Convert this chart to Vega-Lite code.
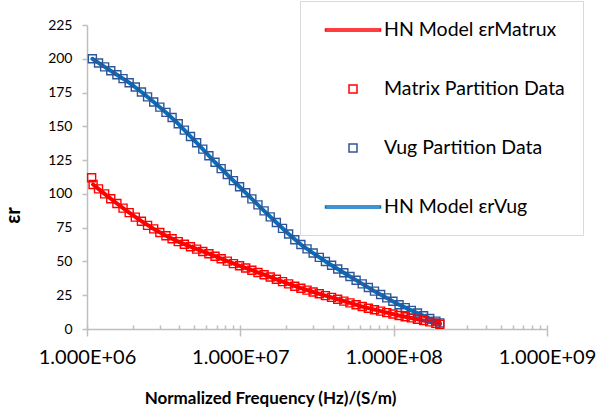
{
  "$schema": "https://vega.github.io/schema/vega-lite/v6.json",
  "width": 460,
  "height": 304,
  "autosize": "none",
  "padding": {"left": 87, "top": 25, "right": 65, "bottom": 83},
  "background": "white",
  "config": {
    "view": {"stroke": null},
    "font": "Lato",
    "axis": {"grid": false, "domainColor": "#BFBFBF", "tickColor": "#BFBFBF", "labelColor": "#000000", "titleColor": "#000000", "labelFont": "Lato", "titleFont": "Lato", "domainWidth": 1.5, "tickWidth": 1.5}
  },
  "resolve": {"axis": {"x": "independent"}},
  "datasets": {
    "hnmodel": [
      {"f": 1084000, "v": 200, "series": "HN Model εrVug"},
      {"f": 1303000, "v": 194.0, "series": "HN Model εrVug"},
      {"f": 1567000, "v": 188.2, "series": "HN Model εrVug"},
      {"f": 1884000, "v": 182.3, "series": "HN Model εrVug"},
      {"f": 2265000, "v": 175.4, "series": "HN Model εrVug"},
      {"f": 2723000, "v": 168.0, "series": "HN Model εrVug"},
      {"f": 3273000, "v": 160.3, "series": "HN Model εrVug"},
      {"f": 3936000, "v": 151.9, "series": "HN Model εrVug"},
      {"f": 4732000, "v": 142.5, "series": "HN Model εrVug"},
      {"f": 5689000, "v": 133.1, "series": "HN Model εrVug"},
      {"f": 6839000, "v": 123.4, "series": "HN Model εrVug"},
      {"f": 8222000, "v": 114.3, "series": "HN Model εrVug"},
      {"f": 9886000, "v": 105.3, "series": "HN Model εrVug"},
      {"f": 11890000, "v": 96.3, "series": "HN Model εrVug"},
      {"f": 14290000, "v": 87.4, "series": "HN Model εrVug"},
      {"f": 17180000, "v": 78.8, "series": "HN Model εrVug"},
      {"f": 20650000, "v": 70.3, "series": "HN Model εrVug"},
      {"f": 24830000, "v": 62.5, "series": "HN Model εrVug"},
      {"f": 29850000, "v": 56.2, "series": "HN Model εrVug"},
      {"f": 35890000, "v": 50.0, "series": "HN Model εrVug"},
      {"f": 43150000, "v": 44.4, "series": "HN Model εrVug"},
      {"f": 51880000, "v": 38.9, "series": "HN Model εrVug"},
      {"f": 62370000, "v": 33.4, "series": "HN Model εrVug"},
      {"f": 74990000, "v": 28.0, "series": "HN Model εrVug"},
      {"f": 90160000, "v": 23.0, "series": "HN Model εrVug"},
      {"f": 108400000, "v": 18.0, "series": "HN Model εrVug"},
      {"f": 130300000, "v": 13.8, "series": "HN Model εrVug"},
      {"f": 156700000, "v": 9.8, "series": "HN Model εrVug"},
      {"f": 188400000, "v": 5.8, "series": "HN Model εrVug"},
      {"f": 200000000, "v": 4.5, "series": "HN Model εrVug"},
      {"f": 1096000, "v": 107, "series": "HN  Model εrMatrux"},
      {"f": 1303000, "v": 100.0, "series": "HN  Model εrMatrux"},
      {"f": 1567000, "v": 92.9, "series": "HN  Model εrMatrux"},
      {"f": 1884000, "v": 86.1, "series": "HN  Model εrMatrux"},
      {"f": 2265000, "v": 79.8, "series": "HN  Model εrMatrux"},
      {"f": 2723000, "v": 74.1, "series": "HN  Model εrMatrux"},
      {"f": 3273000, "v": 69.0, "series": "HN  Model εrMatrux"},
      {"f": 3936000, "v": 64.7, "series": "HN  Model εrMatrux"},
      {"f": 4732000, "v": 60.9, "series": "HN  Model εrMatrux"},
      {"f": 5689000, "v": 57.4, "series": "HN  Model εrMatrux"},
      {"f": 6839000, "v": 53.9, "series": "HN  Model εrMatrux"},
      {"f": 8222000, "v": 50.2, "series": "HN  Model εrMatrux"},
      {"f": 9886000, "v": 46.8, "series": "HN  Model εrMatrux"},
      {"f": 11890000, "v": 43.5, "series": "HN  Model εrMatrux"},
      {"f": 14290000, "v": 40.2, "series": "HN  Model εrMatrux"},
      {"f": 17180000, "v": 36.8, "series": "HN  Model εrMatrux"},
      {"f": 20650000, "v": 33.4, "series": "HN  Model εrMatrux"},
      {"f": 24830000, "v": 30.2, "series": "HN  Model εrMatrux"},
      {"f": 29850000, "v": 27.4, "series": "HN  Model εrMatrux"},
      {"f": 35890000, "v": 24.7, "series": "HN  Model εrMatrux"},
      {"f": 43150000, "v": 22.0, "series": "HN  Model εrMatrux"},
      {"f": 51880000, "v": 19.3, "series": "HN  Model εrMatrux"},
      {"f": 62370000, "v": 16.6, "series": "HN  Model εrMatrux"},
      {"f": 74990000, "v": 14.3, "series": "HN  Model εrMatrux"},
      {"f": 90160000, "v": 12.1, "series": "HN  Model εrMatrux"},
      {"f": 108400000, "v": 10.0, "series": "HN  Model εrMatrux"},
      {"f": 130300000, "v": 8.2, "series": "HN  Model εrMatrux"},
      {"f": 156700000, "v": 6.3, "series": "HN  Model εrMatrux"},
      {"f": 188400000, "v": 4.2, "series": "HN  Model εrMatrux"},
      {"f": 200000000, "v": 3.5, "series": "HN  Model εrMatrux"}
    ],
    "pts": [
      {"f": 1084000, "v": 200, "series": "Vug Partition Data"},
      {"f": 1189000, "v": 196.9, "series": "Vug Partition Data"},
      {"f": 1303000, "v": 194.0, "series": "Vug Partition Data"},
      {"f": 1429000, "v": 191.1, "series": "Vug Partition Data"},
      {"f": 1567000, "v": 188.2, "series": "Vug Partition Data"},
      {"f": 1718000, "v": 185.3, "series": "Vug Partition Data"},
      {"f": 1884000, "v": 182.3, "series": "Vug Partition Data"},
      {"f": 2065000, "v": 179.1, "series": "Vug Partition Data"},
      {"f": 2265000, "v": 175.4, "series": "Vug Partition Data"},
      {"f": 2483000, "v": 171.8, "series": "Vug Partition Data"},
      {"f": 2723000, "v": 168.0, "series": "Vug Partition Data"},
      {"f": 2985000, "v": 164.2, "series": "Vug Partition Data"},
      {"f": 3273000, "v": 160.3, "series": "Vug Partition Data"},
      {"f": 3589000, "v": 156.5, "series": "Vug Partition Data"},
      {"f": 3936000, "v": 151.9, "series": "Vug Partition Data"},
      {"f": 4315000, "v": 147.2, "series": "Vug Partition Data"},
      {"f": 4732000, "v": 142.5, "series": "Vug Partition Data"},
      {"f": 5188000, "v": 137.8, "series": "Vug Partition Data"},
      {"f": 5689000, "v": 133.1, "series": "Vug Partition Data"},
      {"f": 6237000, "v": 128.2, "series": "Vug Partition Data"},
      {"f": 6839000, "v": 123.4, "series": "Vug Partition Data"},
      {"f": 7499000, "v": 118.7, "series": "Vug Partition Data"},
      {"f": 8222000, "v": 114.3, "series": "Vug Partition Data"},
      {"f": 9016000, "v": 109.8, "series": "Vug Partition Data"},
      {"f": 9886000, "v": 105.3, "series": "Vug Partition Data"},
      {"f": 10840000, "v": 100.8, "series": "Vug Partition Data"},
      {"f": 11890000, "v": 96.3, "series": "Vug Partition Data"},
      {"f": 13030000, "v": 91.9, "series": "Vug Partition Data"},
      {"f": 14290000, "v": 87.4, "series": "Vug Partition Data"},
      {"f": 15670000, "v": 83.0, "series": "Vug Partition Data"},
      {"f": 17180000, "v": 78.8, "series": "Vug Partition Data"},
      {"f": 18840000, "v": 74.5, "series": "Vug Partition Data"},
      {"f": 20650000, "v": 70.3, "series": "Vug Partition Data"},
      {"f": 22650000, "v": 66.1, "series": "Vug Partition Data"},
      {"f": 24830000, "v": 62.5, "series": "Vug Partition Data"},
      {"f": 27230000, "v": 59.3, "series": "Vug Partition Data"},
      {"f": 29850000, "v": 56.2, "series": "Vug Partition Data"},
      {"f": 32730000, "v": 53.0, "series": "Vug Partition Data"},
      {"f": 35890000, "v": 50.0, "series": "Vug Partition Data"},
      {"f": 39360000, "v": 47.2, "series": "Vug Partition Data"},
      {"f": 43150000, "v": 44.4, "series": "Vug Partition Data"},
      {"f": 47320000, "v": 41.6, "series": "Vug Partition Data"},
      {"f": 51880000, "v": 38.9, "series": "Vug Partition Data"},
      {"f": 56890000, "v": 36.1, "series": "Vug Partition Data"},
      {"f": 62370000, "v": 33.4, "series": "Vug Partition Data"},
      {"f": 68390000, "v": 30.7, "series": "Vug Partition Data"},
      {"f": 74990000, "v": 28.0, "series": "Vug Partition Data"},
      {"f": 82220000, "v": 25.5, "series": "Vug Partition Data"},
      {"f": 90160000, "v": 23.0, "series": "Vug Partition Data"},
      {"f": 98860000, "v": 20.5, "series": "Vug Partition Data"},
      {"f": 108400000, "v": 18.0, "series": "Vug Partition Data"},
      {"f": 118900000, "v": 15.8, "series": "Vug Partition Data"},
      {"f": 130300000, "v": 13.8, "series": "Vug Partition Data"},
      {"f": 142900000, "v": 11.8, "series": "Vug Partition Data"},
      {"f": 156700000, "v": 9.8, "series": "Vug Partition Data"},
      {"f": 171800000, "v": 7.8, "series": "Vug Partition Data"},
      {"f": 188400000, "v": 5.8, "series": "Vug Partition Data"},
      {"f": 200000000, "v": 4.5, "series": "Vug Partition Data"},
      {"f": 1072000, "v": 112, "series": "Matrix Partition Data"},
      {"f": 1096000, "v": 107, "series": "Matrix Partition Data"},
      {"f": 1189000, "v": 103.7, "series": "Matrix Partition Data"},
      {"f": 1303000, "v": 100.0, "series": "Matrix Partition Data"},
      {"f": 1429000, "v": 96.4, "series": "Matrix Partition Data"},
      {"f": 1567000, "v": 92.9, "series": "Matrix Partition Data"},
      {"f": 1718000, "v": 89.5, "series": "Matrix Partition Data"},
      {"f": 1884000, "v": 86.1, "series": "Matrix Partition Data"},
      {"f": 2065000, "v": 82.8, "series": "Matrix Partition Data"},
      {"f": 2265000, "v": 79.8, "series": "Matrix Partition Data"},
      {"f": 2483000, "v": 76.7, "series": "Matrix Partition Data"},
      {"f": 2723000, "v": 74.1, "series": "Matrix Partition Data"},
      {"f": 2985000, "v": 71.4, "series": "Matrix Partition Data"},
      {"f": 3273000, "v": 69.0, "series": "Matrix Partition Data"},
      {"f": 3589000, "v": 66.8, "series": "Matrix Partition Data"},
      {"f": 3936000, "v": 64.7, "series": "Matrix Partition Data"},
      {"f": 4315000, "v": 62.7, "series": "Matrix Partition Data"},
      {"f": 4732000, "v": 60.9, "series": "Matrix Partition Data"},
      {"f": 5188000, "v": 59.1, "series": "Matrix Partition Data"},
      {"f": 5689000, "v": 57.4, "series": "Matrix Partition Data"},
      {"f": 6237000, "v": 55.7, "series": "Matrix Partition Data"},
      {"f": 6839000, "v": 53.9, "series": "Matrix Partition Data"},
      {"f": 7499000, "v": 52.0, "series": "Matrix Partition Data"},
      {"f": 8222000, "v": 50.2, "series": "Matrix Partition Data"},
      {"f": 9016000, "v": 48.4, "series": "Matrix Partition Data"},
      {"f": 9886000, "v": 46.8, "series": "Matrix Partition Data"},
      {"f": 10840000, "v": 45.1, "series": "Matrix Partition Data"},
      {"f": 11890000, "v": 43.5, "series": "Matrix Partition Data"},
      {"f": 13030000, "v": 41.8, "series": "Matrix Partition Data"},
      {"f": 14290000, "v": 40.2, "series": "Matrix Partition Data"},
      {"f": 15670000, "v": 38.5, "series": "Matrix Partition Data"},
      {"f": 17180000, "v": 36.8, "series": "Matrix Partition Data"},
      {"f": 18840000, "v": 35.1, "series": "Matrix Partition Data"},
      {"f": 20650000, "v": 33.4, "series": "Matrix Partition Data"},
      {"f": 22650000, "v": 31.6, "series": "Matrix Partition Data"},
      {"f": 24830000, "v": 30.2, "series": "Matrix Partition Data"},
      {"f": 27230000, "v": 28.8, "series": "Matrix Partition Data"},
      {"f": 29850000, "v": 27.4, "series": "Matrix Partition Data"},
      {"f": 32730000, "v": 26.1, "series": "Matrix Partition Data"},
      {"f": 35890000, "v": 24.7, "series": "Matrix Partition Data"},
      {"f": 39360000, "v": 23.4, "series": "Matrix Partition Data"},
      {"f": 43150000, "v": 22.0, "series": "Matrix Partition Data"},
      {"f": 47320000, "v": 20.6, "series": "Matrix Partition Data"},
      {"f": 51880000, "v": 19.3, "series": "Matrix Partition Data"},
      {"f": 56890000, "v": 17.9, "series": "Matrix Partition Data"},
      {"f": 62370000, "v": 16.6, "series": "Matrix Partition Data"},
      {"f": 68390000, "v": 15.4, "series": "Matrix Partition Data"},
      {"f": 74990000, "v": 14.3, "series": "Matrix Partition Data"},
      {"f": 82220000, "v": 13.2, "series": "Matrix Partition Data"},
      {"f": 90160000, "v": 12.1, "series": "Matrix Partition Data"},
      {"f": 98860000, "v": 11.1, "series": "Matrix Partition Data"},
      {"f": 108400000, "v": 10.0, "series": "Matrix Partition Data"},
      {"f": 118900000, "v": 9.1, "series": "Matrix Partition Data"},
      {"f": 130300000, "v": 8.2, "series": "Matrix Partition Data"},
      {"f": 142900000, "v": 7.2, "series": "Matrix Partition Data"},
      {"f": 156700000, "v": 6.3, "series": "Matrix Partition Data"},
      {"f": 171800000, "v": 5.3, "series": "Matrix Partition Data"},
      {"f": 188400000, "v": 4.2, "series": "Matrix Partition Data"},
      {"f": 200000000, "v": 3.5, "series": "Matrix Partition Data"}
    ]
  },
  "layer": [
    {
      "data": {"name": "hnmodel"},
      "mark": {"type": "line", "strokeWidth": 4, "strokeCap": "round", "strokeJoin": "round"},
      "encoding": {
        "x": {
          "field": "f", "type": "quantitative",
          "scale": {"type": "log", "domain": [1000000, 1000000000]},
          "axis": {
            "orient": "bottom",
            "values": [1000000, 10000000, 100000000, 1000000000],
            "labelExpr": "replace(format(datum.value, '.3e'), 'e+', 'E+0')",
            "labelFlush": false, "labelOverlap": false,
            "labelFontSize": 20, "labelPadding": 11, "tickSize": 7,
            "title": "Normalized Frequency (Hz)/(S/m)",
            "titleFontSize": 17, "titleFontWeight": "bold",
            "titleX": 183, "titleY": 74, "titleBaseline": "alphabetic", "titleAlign": "center", "titleAnchor": "middle"
          }
        },
        "y": {
          "field": "v", "type": "quantitative",
          "scale": {"domain": [0, 225], "nice": false, "zero": true},
          "axis": {
            "orient": "left",
            "values": [0, 25, 50, 75, 100, 125, 150, 175, 200, 225],
            "labelOverlap": false,
            "labelFontSize": 14, "labelPadding": 10, "tickSize": 5,
            "title": "εr", "titleFontSize": 20, "titleFontWeight": "bold",
            "titleX": -74, "titleY": 190, "titleBaseline": "middle", "titleAlign": "center", "titleAngle": -90
          }
        },
        "color": {
          "field": "series", "type": "nominal",
          "scale": {
            "domain": ["HN  Model εrMatrux", "Matrix Partition Data", "Vug Partition Data", "HN Model εrVug"],
            "range": ["#FF0000", "#FF0000", "#2F5597", "#0070C0"]
          },
          "legend": {
            "orient": "none", "legendX": 213, "legendY": -24,
            "title": null,
            "fillColor": "#FFFFFF", "strokeColor": "#D9D9D9",
            "padding": 18,
            "symbolSize": 400,
            "symbolStrokeWidth": 1.5,
            "symbolOffset": 24,
            "labelOffset": 20,
            "rowPadding": 38,
            "labelFont": "Lato", "labelFontSize": 19.5, "labelColor": "#000000", "labelLimit": 400
          }
        }
      }
    },
    {
      "data": {"name": "pts"},
      "mark": {"type": "point", "filled": false, "size": 400, "strokeWidth": 1.4, "opacity": 1},
      "encoding": {
        "x": {
          "field": "f", "type": "quantitative",
          "axis": {
            "orient": "bottom",
            "values": [1000000, 2000000, 3000000, 4000000, 5000000, 6000000, 7000000, 8000000, 9000000, 10000000, 20000000, 30000000, 40000000, 50000000, 60000000, 70000000, 80000000, 90000000, 100000000, 200000000, 300000000, 400000000, 500000000, 600000000, 700000000, 800000000, 900000000, 1000000000],
            "labels": false, "domain": false, "title": null, "tickSize": -4
          }
        },
        "y": {
          "field": "v", "type": "quantitative",
          "axis": {
            "orient": "left",
            "values": [0, 25, 50, 75, 100, 125, 150, 175, 200, 225],
            "labelOverlap": false,
            "labelFontSize": 14, "labelPadding": 10, "tickSize": 5,
            "title": "εr", "titleFontSize": 20, "titleFontWeight": "bold",
            "titleX": -74, "titleY": 190, "titleBaseline": "middle", "titleAlign": "center", "titleAngle": -90
          }
        },
        "color": {"field": "series", "type": "nominal"},
        "shape": {
          "field": "series", "type": "nominal",
          "scale": {
            "domain": ["HN  Model εrMatrux", "Matrix Partition Data", "Vug Partition Data", "HN Model εrVug"],
            "range": ["M-2.75,-0.1H2.75V0.1H-2.75Z", "M-0.4,-0.4H0.4V0.4H-0.4Z", "M-0.4,-0.4H0.4V0.4H-0.4Z", "M-2.75,-0.1H2.75V0.1H-2.75Z"]
          }
        }
      }
    }
  ]
}
